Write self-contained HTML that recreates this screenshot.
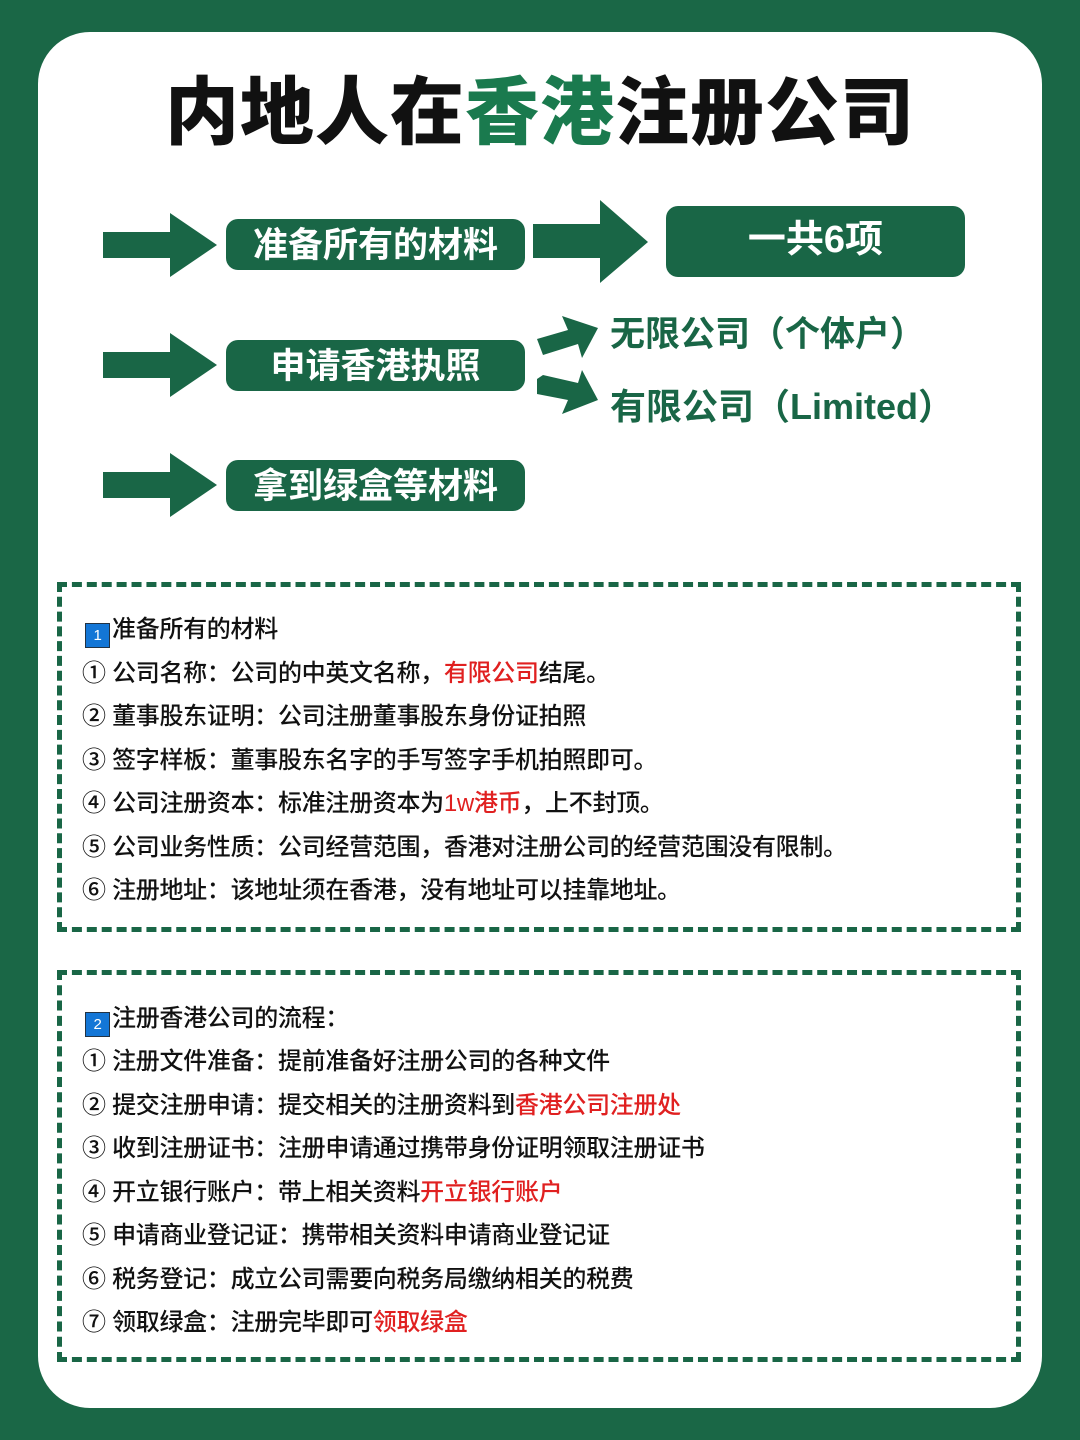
<!DOCTYPE html>
<html><head><meta charset="utf-8"><style>
*{margin:0;padding:0;box-sizing:border-box}
body{width:1080px;height:1440px;background:#1a6746;position:relative;overflow:hidden;font-family:"Liberation Sans","Noto Sans CJK SC",sans-serif}
.card{position:absolute;left:38px;top:32px;width:1004px;height:1376px;background:#fff;border-radius:52px}
.t{position:absolute;white-space:nowrap}
.title{left:0;width:1080px;text-align:center;top:70px;font-size:74px;font-weight:900;color:#111;line-height:86px;letter-spacing:1px}
.pill{position:absolute;background:#196646;border-radius:12px;color:#fff;font-weight:700;font-size:35px;text-align:center}
.gt{color:#196646;font-weight:700;font-size:35px}
.box{position:absolute;left:57px;width:964px;border:5px dashed #196646}
.ln{position:absolute;left:82px;font-size:24px;color:#111;line-height:30px;font-weight:500;letter-spacing:-0.3px}
.r{color:#e02020}
.num{display:inline-block;width:25px;height:25px;background:#1376d6;color:#fff;font-size:15px;text-align:center;line-height:23px;border:1px solid #234;vertical-align:-3px;margin-right:2px;margin-left:3px}
</style></head><body>
<div class="card"></div>
<div class="t title">内地人在<span style="color:#1a7a4e">香港</span>注册公司</div>
<svg width="1080" height="560" style="position:absolute;left:0;top:0">
<g fill="#196646">
<polygon points="103,232 170,232 170,213 217,245 170,277 170,258 103,258"/>
<polygon points="103,352 170,352 170,333 217,365 170,397 170,378 103,378"/>
<polygon points="103,472 170,472 170,453 217,485 170,517 170,498 103,498"/>
<polygon points="533,224 600,224 600,200 648,242 600,283 600,258 533,258"/>
<polygon points="537,339 568,330 562,316 598,328 582,358 578,344 543,355"/>
<polygon points="537,379 543,375 578,383 582,370 598,400 562,414 568,400 537,394"/>
</g>
</svg>
<div class="pill" style="left:226px;top:219px;width:299px;height:51px;line-height:54px">准备所有的材料</div>
<div class="pill" style="left:226px;top:340px;width:299px;height:51px;line-height:54px">申请香港执照</div>
<div class="pill" style="left:226px;top:460px;width:299px;height:51px;line-height:54px">拿到绿盒等材料</div>
<div class="pill" style="left:666px;top:206px;width:299px;height:71px;line-height:68px;font-size:38px">一共6项</div>
<div class="t gt" style="left:610px;top:306px">无限公司（个体户）</div>
<div class="t gt" style="left:610px;top:378px;font-size:36px">有限公司（Limited）</div>

<div class="box" style="top:582px;height:350px"></div>
<div class="ln" style="top:615px"><span class="num">1</span>准备所有的材料</div>
<div class="ln" style="top:659px">① 公司名称：公司的中英文名称，<span class="r">有限公司</span>结尾。</div>
<div class="ln" style="top:702px">② 董事股东证明：公司注册董事股东身份证拍照</div>
<div class="ln" style="top:746px">③ 签字样板：董事股东名字的手写签字手机拍照即可。</div>
<div class="ln" style="top:789px">④ 公司注册资本：标准注册资本为<span class="r">1w港币</span>，上不封顶。</div>
<div class="ln" style="top:833px">⑤ 公司业务性质：公司经营范围，香港对注册公司的经营范围没有限制。</div>
<div class="ln" style="top:876px">⑥ 注册地址：该地址须在香港，没有地址可以挂靠地址。</div>

<div class="box" style="top:970px;height:392px"></div>
<div class="ln" style="top:1004px"><span class="num">2</span>注册香港公司的流程：</div>
<div class="ln" style="top:1047px">① 注册文件准备：提前准备好注册公司的各种文件</div>
<div class="ln" style="top:1091px">② 提交注册申请：提交相关的注册资料到<span class="r">香港公司注册处</span></div>
<div class="ln" style="top:1134px">③ 收到注册证书：注册申请通过携带身份证明领取注册证书</div>
<div class="ln" style="top:1178px">④ 开立银行账户：带上相关资料<span class="r">开立银行账户</span></div>
<div class="ln" style="top:1221px">⑤ 申请商业登记证：携带相关资料申请商业登记证</div>
<div class="ln" style="top:1265px">⑥ 税务登记：成立公司需要向税务局缴纳相关的税费</div>
<div class="ln" style="top:1308px">⑦ 领取绿盒：注册完毕即可<span class="r">领取绿盒</span></div>
</body></html>
